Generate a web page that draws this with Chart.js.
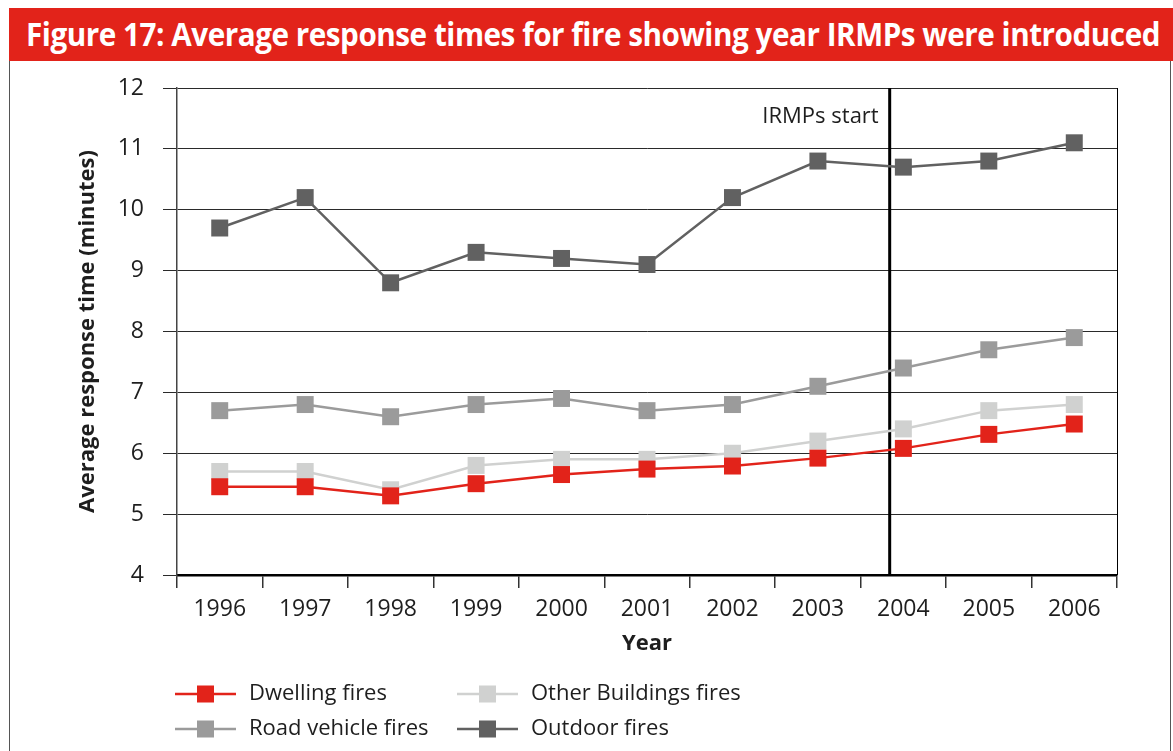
<!DOCTYPE html>
<html>
<head>
<meta charset="utf-8">
<title>Figure 17: Average response times for fire</title>
<script src="https://cdn.jsdelivr.net/npm/chart.js@4.4.0/dist/chart.umd.min.js"></script>
<style>
  html, body { margin: 0; padding: 0; background: #fff; }
  body { width: 1173px; height: 751px; position: relative; overflow: hidden; font-family: "Open Sans", sans-serif; }
  #banner { position: absolute; left: 9px; top: 8px; width: 1164px; height: 53px; background: #e2231a; overflow: hidden; }
  #banner span { position: absolute; left: 17px; top: 6px; color: #fff; font-weight: 700; font-size: 32px; line-height: 40px; white-space: nowrap; transform-origin: left center; letter-spacing: -0.5px; }
  #frame { position: absolute; left: 9px; top: 61px; width: 1160px; height: 700px; border-left: 1px solid #555; border-right: 1px solid #555; }
  #wrap { position: absolute; left: 10px; top: 62px; width: 1160px; height: 689px; }
</style>
</head>
<body>
<div id="banner"><span id="title">Figure 17: Average response times for fire showing year IRMPs were introduced</span></div>
<div id="frame"></div>
<div id="wrap"><canvas id="chart"></canvas></div>
<script>
/* Average response times for fire, 1996-2006 */

const years = ['1996', '1997', '1998', '1999', '2000', '2001', '2002', '2003', '2004', '2005', '2006'];
const dwellingFires = [5.45, 5.45, 5.3, 5.5, 5.65, 5.74, 5.79, 5.92, 6.08, 6.31, 6.48];
const otherBuildingsFires = [5.7, 5.7, 5.4, 5.8, 5.9, 5.9, 6.0, 6.2, 6.4, 6.7, 6.8];
const roadVehicleFires = [6.7, 6.8, 6.6, 6.8, 6.9, 6.7, 6.8, 7.1, 7.4, 7.7, 7.9];
const outdoorFires = [9.7, 10.2, 8.8, 9.3, 9.2, 9.1, 10.2, 10.8, 10.7, 10.8, 11.1];
const yTicks = [4, 5, 6, 7, 8, 9, 10, 11, 12];
const irmpStart = 7.84;   // category position of the IRMP marker line
const irmpLabel = 'IRMPs start';

const TEXT = '#1e1e1e';
const FONT = '"Open Sans", sans-serif';

// squeeze the banner title to the banner width
const titleEl = document.getElementById('title');
const titleW = titleEl.getBoundingClientRect().width;
titleEl.style.transform = 'scaleX(' + (1134 / titleW) + ')';

function series(label, data, color) {
    return {
        label,
        data,
        borderColor: color,
        backgroundColor: color,
        borderWidth: 2.5,
        pointStyle: 'rect',
        pointRadius: 12,
        pointHoverRadius: 12,
        pointBorderWidth: 0,
        tension: 0
    };
}

// vertical marker for the IRMP start plus right edge of the plot box
const irmpLine = {
    id: 'irmpLine',
    beforeDatasetsDraw(chart) {
        const { ctx, chartArea, scales } = chart;
        const x = scales.x.getPixelForValue(irmpStart);
        ctx.save();
        ctx.strokeStyle = '#000';
        ctx.lineWidth = 1;
        ctx.beginPath();
        ctx.moveTo(chartArea.right + 0.5, chartArea.top);
        ctx.lineTo(chartArea.right + 0.5, chartArea.bottom);
        ctx.stroke();
        ctx.lineWidth = 3;
        ctx.beginPath();
        ctx.moveTo(x, chartArea.top);
        ctx.lineTo(x, chartArea.bottom);
        ctx.stroke();
        ctx.fillStyle = TEXT;
        ctx.font = '22px ' + FONT;
        ctx.textAlign = 'right';
        ctx.textBaseline = 'middle';
        ctx.fillText(irmpLabel, x - 11, chartArea.top + 29);
        ctx.restore();
    }
};

// two-column legend under the axis
const gridLegend = {
    id: 'gridLegend',
    afterDraw(chart) {
        const { ctx, chartArea } = chart;
        const cols = [chartArea.left - 2, chartArea.left + 280];
        const rows = [chart.height - 57, chart.height - 22];
        ctx.save();
        ctx.font = '22px ' + FONT;
        ctx.textBaseline = 'middle';
        ctx.textAlign = 'left';
        chart.data.datasets.forEach((ds, i) => {
            const x = cols[i % 2];
            const y = rows[Math.floor(i / 2)];
            ctx.strokeStyle = ds.borderColor;
            ctx.lineWidth = 2.5;
            ctx.beginPath();
            ctx.moveTo(x, y);
            ctx.lineTo(x + 61, y);
            ctx.stroke();
            ctx.fillStyle = ds.backgroundColor;
            ctx.fillRect(x + 22, y - 8.5, 17, 17);
            ctx.fillStyle = TEXT;
            ctx.fillText(ds.label, x + 74, y);
        });
        ctx.restore();
    }
};

new Chart(document.getElementById('chart'), {
    type: 'line',
    data: {
        labels: years,
        datasets: [
            series('Dwelling fires', dwellingFires, '#e2231a'),
            series('Other Buildings fires', otherBuildingsFires, '#d0d1d0'),
            series('Road vehicle fires', roadVehicleFires, '#9b9b9b'),
            series('Outdoor fires', outdoorFires, '#616161')
        ]
    },
    options: {
        responsive: true,
        maintainAspectRatio: false,
        animation: false,
        events: [],
        layout: { padding: { left: 61, top: 26, right: 53, bottom: 90 } },
        plugins: {
            legend: { display: false },
            tooltip: { enabled: false }
        },
        scales: {
            x: {
                offset: true,
                afterFit: s => { s.height = 86; s.paddingLeft = 0; s.paddingRight = 0; },
                grid: { offset: true, drawOnChartArea: false, drawTicks: true, tickLength: 13, color: '#333', lineWidth: 1.5 },
                border: { color: '#000', width: 2.5 },
                ticks: { color: TEXT, font: { family: FONT, size: 23 }, padding: 8, maxRotation: 0 },
                title: { display: true, text: 'Year', color: TEXT, font: { family: FONT, size: 22, weight: 'bold' } }
            },
            y: {
                min: yTicks[0],
                max: yTicks[yTicks.length - 1],
                afterFit: s => { s.width = 106; s.paddingTop = 0; s.paddingBottom = 0; },
                afterBuildTicks: s => { s.ticks = yTicks.map(v => ({ value: v })); },
                grid: { color: '#2a2a2a', lineWidth: 1, tickLength: 14 },
                border: { color: '#444', width: 1.5 },
                ticks: { color: TEXT, font: { family: FONT, size: 23 }, padding: 19 },
                title: { display: true, text: 'Average response time (minutes)', color: TEXT, font: { family: FONT, size: 22, weight: 'bold' } }
            }
        }
    },
    plugins: [irmpLine, gridLegend]
});
</script>
</body>
</html>
